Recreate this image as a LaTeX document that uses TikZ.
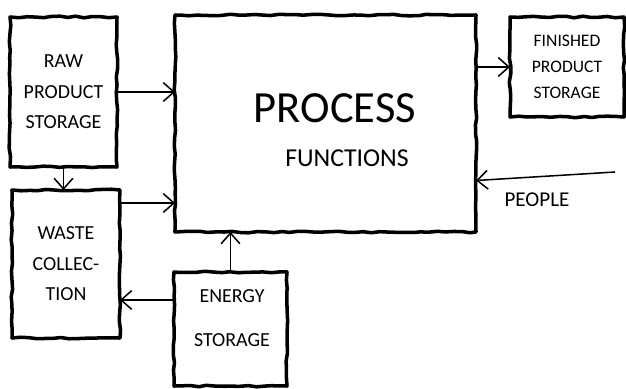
\documentclass[tikz,border=0pt]{standalone}
\usepackage{fontspec}
\setmainfont{Carlito}
\usetikzlibrary{arrows.meta, positioning, calc, decorations.pathmorphing}

\begin{document}
\begin{tikzpicture}[x=0.03cm, y=-0.03cm,
    box/.style={draw, line width=3pt, line join=round, inner sep=0pt, outer sep=0pt,
      decorate, decoration={random steps, segment length=7pt, amplitude=0.7pt},
      align=center, font=\fontsize{17}{26}\selectfont},
    flow/.style={-{Straight Barb[length=9pt, width=16pt]}, line width=1.3pt}]
  \pgfmathsetseed{7}
  \useasboundingbox (0,0) rectangle (626,388);

  % Storage and collection boxes
  \node[box, minimum width=3.21cm, minimum height=4.5cm] (raw) at (63.5,92) {RAW\\PRODUCT\\STORAGE};
  \node[box, minimum width=3.24cm, minimum height=4.44cm] (waste) at (66,264) {WASTE\\COLLEC-\\TION};
  \node[box, minimum width=3.42cm, minimum height=3.0cm, font=\fontsize{15}{22}\selectfont] (finished) at (567,67) {FINISHED\\PRODUCT\\STORAGE};
  \node[box, minimum width=3.39cm, minimum height=3.42cm] (energy) at (230.5,329) {};
  \node[align=center, font=\fontsize{17}{38}\selectfont] (energytext) at (232,318) {ENERGY\\STORAGE};

  % Process box
  \node[box, minimum width=9.03cm, minimum height=6.51cm] (process) at (325.5,123.5) {};
  \node[font=\fontsize{38}{38}\selectfont] (proctitle) at (335,108) {PROCESS};
  \node[font=\fontsize{22}{22}\selectfont] (procsub) at (347,158) {FUNCTIONS};

  % Flows
  \draw[flow] (raw.east) -- (raw.east -| process.west);
  \draw[flow] (raw.south) -- (raw.south |- waste.north);
  \coordinate (wasteout) at ($(waste.north east)+(0,13)$);
  \draw[flow] (wasteout) -- (wasteout -| process.west);
  \draw[flow] (energy.north) -- (energy.north |- process.south);
  \coordinate (energyout) at ($(energy.north west)+(0,28)$);
  \draw[flow] (energyout) -- (energyout -| waste.east);
  \draw[flow] (process.east |- finished.west) -- (finished.west);

  % People coming in
  \coordinate (people) at (615,172);
  \draw[flow] (people) -- ($(process.east)+(0,57)$);
  \node[font=\fontsize{18}{18}\selectfont] (peoplelabel) at (537,200) {PEOPLE};
\end{tikzpicture}
\end{document}
